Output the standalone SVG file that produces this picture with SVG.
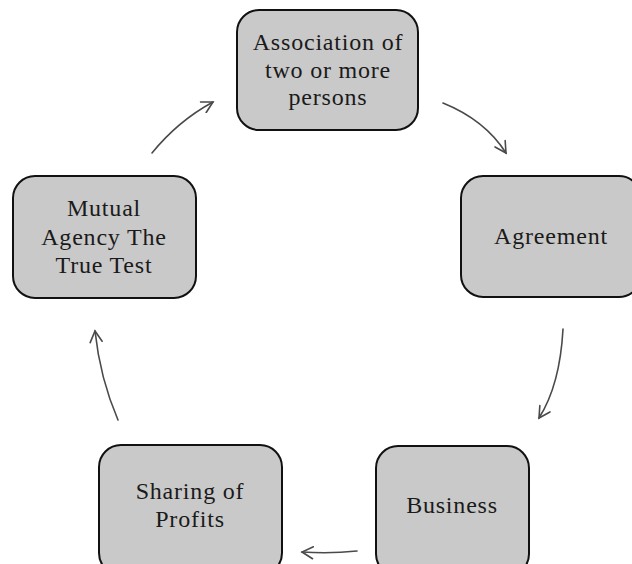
<svg xmlns="http://www.w3.org/2000/svg" width="632" height="564" viewBox="0 0 632 564">
<style>
.box{fill:#c9c9c9;stroke:#111;stroke-width:2}
.t{font-family:"Liberation Serif","Times New Roman",serif;font-size:24px;letter-spacing:0.8px;fill:#1a1a1a;text-anchor:middle}
.c{fill:none;stroke:#4a4a4a;stroke-width:1.6;stroke-linecap:round}
</style>
<defs>
<marker id="ah" viewBox="0 0 14 14" refX="12" refY="7" markerWidth="14" markerHeight="14" markerUnits="userSpaceOnUse" orient="auto">
<path d="M1,1 L12,7 L1,13" fill="none" stroke="#4a4a4a" stroke-width="1.6" stroke-linecap="round"/>
</marker>
</defs>
<rect width="632" height="564" fill="#fff"/>
<g id="connectors">
<path class="c" d="M152,153 Q178,121 213,102" marker-end="url(#ah)"/>
<path class="c" d="M443,103 Q485,120 506,153" marker-end="url(#ah)"/>
<path class="c" d="M563,329 Q560,385 539,418" marker-end="url(#ah)"/>
<path class="c" d="M357,551 Q330,554 302,552" marker-end="url(#ah)"/>
<path class="c" d="M118,420 Q100,378 95,331" marker-end="url(#ah)"/>
</g>
<g id="n1">
<rect class="box" x="237" y="10" width="181" height="120" rx="22"/>
<text class="t" x="328" y="50">Association of</text>
<text class="t" x="328" y="78">two or more</text>
<text class="t" x="328" y="105">persons</text>
</g>
<g id="n2">
<rect class="box" x="461" y="176" width="180" height="121" rx="22"/>
<text class="t" x="551" y="244">Agreement</text>
</g>
<g id="n3">
<rect class="box" x="376" y="446" width="153" height="130" rx="22"/>
<text class="t" x="452" y="513">Business</text>
</g>
<g id="n4">
<rect class="box" x="99" y="445" width="183" height="130" rx="22"/>
<text class="t" x="190" y="499">Sharing of</text>
<text class="t" x="190" y="527">Profits</text>
</g>
<g id="n5">
<rect class="box" x="13" y="176" width="183" height="122" rx="22"/>
<text class="t" x="104" y="216">Mutual</text>
<text class="t" x="104" y="245">Agency The</text>
<text class="t" x="104" y="273">True Test</text>
</g>
</svg>
